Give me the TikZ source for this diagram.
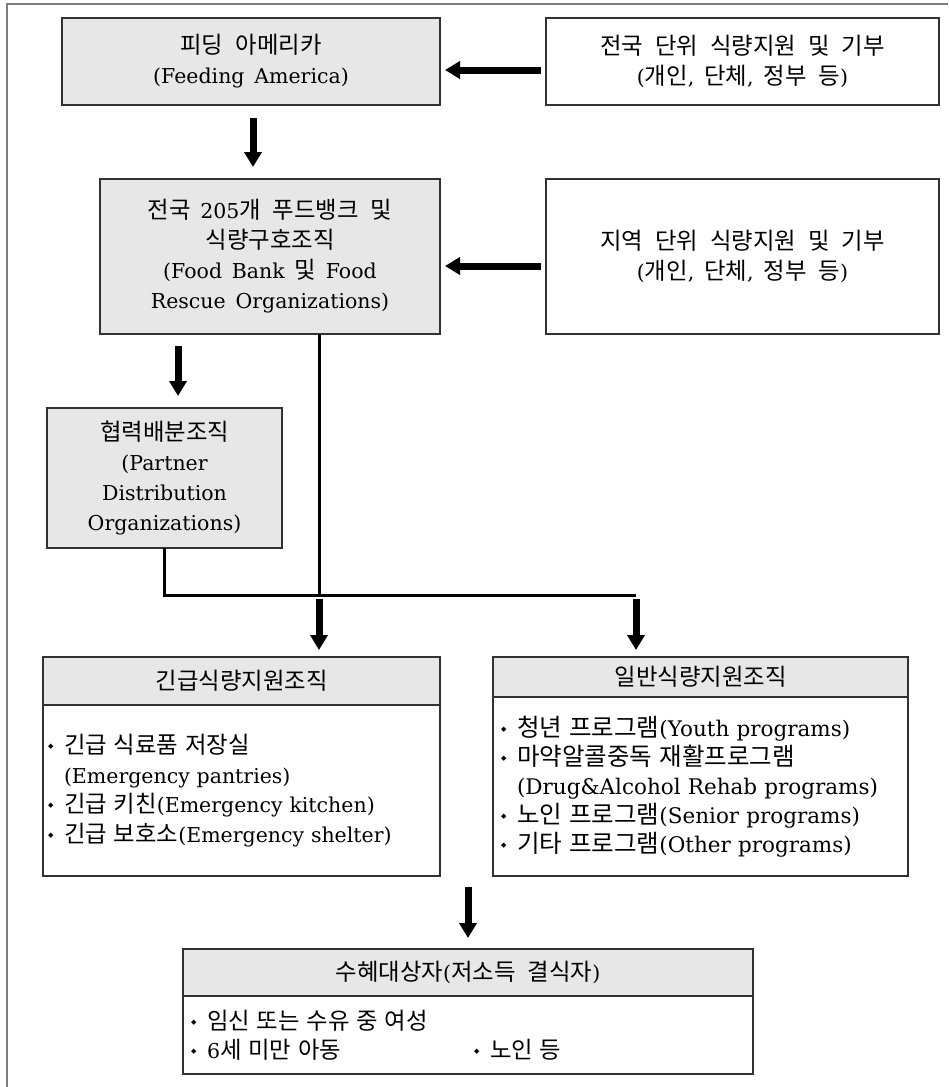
\documentclass[tikz,border=0pt]{standalone}
\usepackage{fontspec}
\setmainfont[WordSpace=1.5]{DejaVu Serif}
\newfontfamily\krfont[Scale=1.14,WordSpace=2.3]{Noto Sans CJK KR}
\newfontfamily\symfont{DejaVu Sans}
\usepackage{tikz}
\usetikzlibrary{arrows.meta,positioning}
\definecolor{boxgray}{RGB}{231,231,231}
\definecolor{edgegray}{RGB}{50,50,50}
\definecolor{framegray}{RGB}{125,125,125}
\newcommand\ko[1]{{\krfont #1}}
\newcommand\bul{\makebox[17pt][l]{\hspace{1pt}\raisebox{5pt}{\symfont\fontsize{7}{7}\selectfont ◆}}}
\tikzset{
  gbox/.style={
    draw=edgegray,
    line width=1.2pt,
    fill=boxgray,
    align=center,
    inner sep=0pt,
    outer sep=0pt,
    font=\fontsize{20.5}{30}\selectfont
  },
  wbox/.style={
    gbox,
    fill=white
  },
  listbox/.style={
    draw=edgegray,
    line width=1.2pt,
    fill=white,
    align=left,
    inner ysep=0pt,
    outer sep=0pt,
    font=\fontsize{20.5}{29.5}\selectfont
  },
  bigarrow/.style={
    -{Triangle[length=15pt,width=17pt]},
    line width=7pt
  },
  conn/.style={
    line width=3pt
  }
}
\begin{document}
\begin{tikzpicture}[x=1pt,y=-1pt]
\fill[white] (0,0) rectangle (948,1087);
\useasboundingbox (0,0) rectangle (948,1087);
\draw[framegray, line width=2pt] (7,1087) -- (7,4) -- (948,4);
% top row
\node[gbox, minimum width=378pt, minimum height=87pt] (fa) at (251,61.5)
  {\ko{피딩 아메리카}\\(Feeding America)};
\node[wbox, minimum width=393pt, minimum height=87pt] (nat) at (742.5,61.5)
  {\ko{전국 단위 식량지원 및 기부}\\(\ko{개인}, \ko{단체}, \ko{정부 등})};
% food banks
\node[gbox, minimum width=340pt, minimum height=155pt] (fb) at (270,256.5)
  {\ko{전국} 205\ko{개 푸드뱅크 및}\\\ko{식량구호조직}\\(Food Bank \ko{및} Food\\Rescue Organizations)};
\node[wbox, minimum width=393pt, minimum height=155pt] (loc) at (742.5,256.5)
  {\ko{지역 단위 식량지원 및 기부}\\(\ko{개인}, \ko{단체}, \ko{정부 등})};
\node[gbox, minimum width=235pt, minimum height=140pt] (pd) at (164.5,478)
  {\ko{협력배분조직}\\(Partner\\Distribution\\Organizations)};
% support organizations
\node[gbox, minimum width=397pt, minimum height=48pt] (emh) at (241.5,681) {\ko{긴급식량지원조직}};
\node[listbox, below=0pt of emh, minimum height=171pt, text width=389pt, inner xsep=4pt] (em)
  {\bul\ko{긴급 식료품 저장실}\\\hspace*{17pt}(Emergency pantries)\\\bul\ko{긴급 키친}(Emergency kitchen)\\\bul\ko{긴급 보호소}(Emergency shelter)};
\node[gbox, minimum width=415pt, minimum height=40pt] (gph) at (700.5,677) {\ko{일반식량지원조직}};
\node[listbox, below=0pt of gph, minimum height=179pt, text width=401pt, inner xsep=7pt, font=\fontsize{21.5}{29}\selectfont] (gp)
  {\bul\ko{청년 프로그램}(Youth programs)\\\bul\ko{마약알콜중독 재활프로그램}\\\hspace*{17pt}(Drug\&Alcohol Rehab programs)\\\bul\ko{노인 프로그램}(Senior programs)\\\bul\ko{기타 프로그램}(Other programs)};
% recipients
\node[gbox, minimum width=570pt, minimum height=47pt] (rch) at (468,972.5) {\ko{수혜대상자}(\ko{저소득 결식자})};
\node[listbox, below=0pt of rch, minimum height=78pt, text width=556pt, inner xsep=7pt] (rc)
  {\bul\ko{임신 또는 수유 중 여성}\\\makebox[283pt][l]{\bul 6\ko{세 미만 아동}}\bul\ko{노인 등}};
\coordinate (j1) at (319,595);
\coordinate (j2) at (636,595);
\draw[bigarrow, shorten <=5pt, shorten >=5pt] ([yshift=-8.5pt]nat.west) -- ([yshift=-8.5pt]nat.west -| fa.east);
\draw[bigarrow, shorten <=13pt, shorten >=12pt] ([xshift=2pt]fa.south) -- ([xshift=2pt]fa.south |- fb.north);
\draw[bigarrow, shorten <=5pt, shorten >=5pt] ([yshift=-9.5pt]loc.west) -- ([yshift=-9.5pt]loc.west -| fb.east);
\draw[bigarrow, shorten <=12pt, shorten >=12pt] ([xshift=13.5pt]pd.north |- fb.south) -- ([xshift=13.5pt]pd.north);
\draw[conn] (fb.south -| j1) -- (j1);
\draw[conn] (pd.south) |- (j2);
\draw[bigarrow, shorten <=4pt, shorten >=7pt] (j1) -- (j1 |- emh.north);
\draw[bigarrow, shorten <=4pt, shorten >=7pt] (j2) -- (j2 |- gph.north);
\draw[bigarrow, shorten <=11pt, shorten >=11pt] (rch.north |- em.south) -- (rch.north);
\end{tikzpicture}
\end{document}
